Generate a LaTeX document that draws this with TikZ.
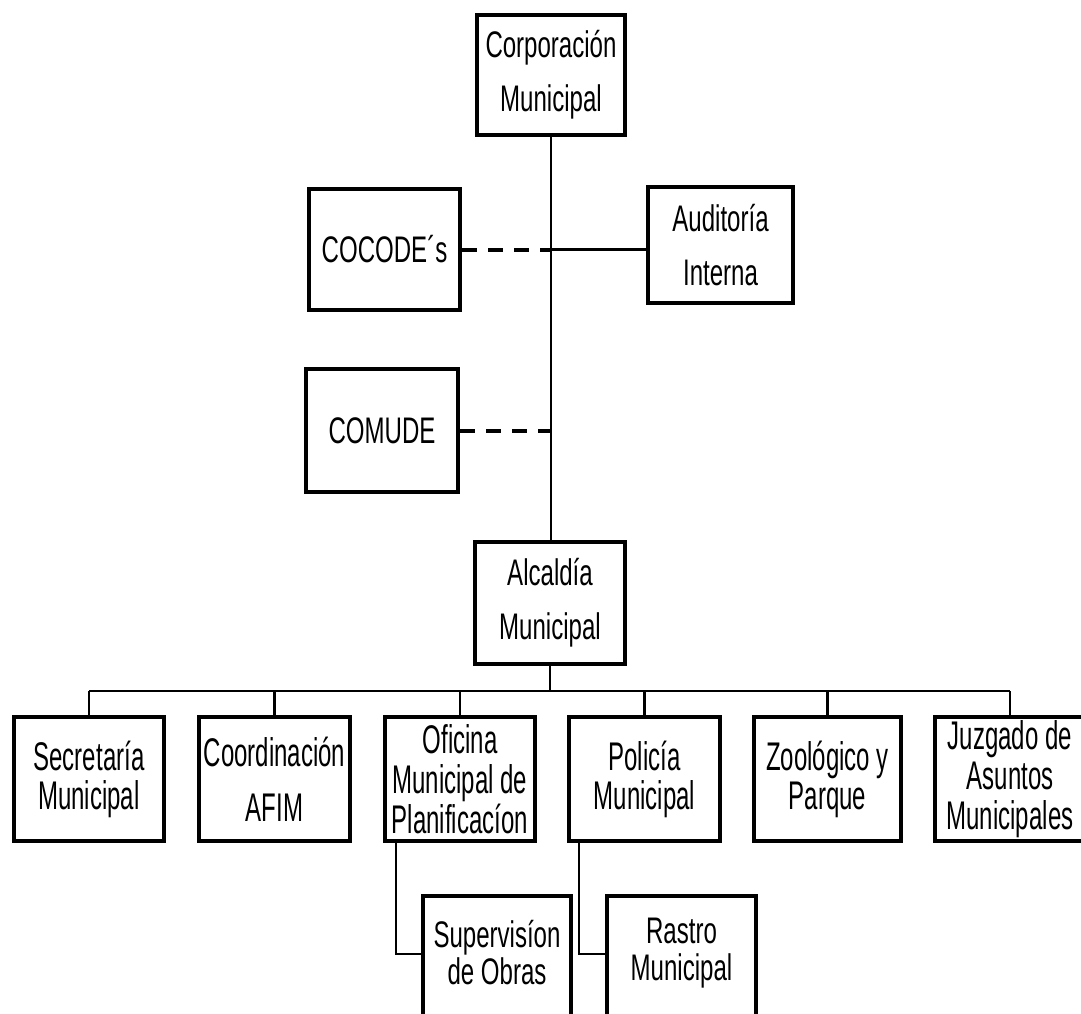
\documentclass[tikz,border=0pt]{standalone}
\usepackage{fontspec}
\setmainfont{Liberation Sans}
% condensed faces for the box labels
\newfontfamily\upperfont[FakeStretch=0.65]{Liberation Sans}
\newfontfamily\lowerfont[FakeStretch=0.60]{Liberation Sans}
\begin{document}
\begin{tikzpicture}[x=1pt,y=-1pt,
  box/.style={draw, line width=4pt, inner sep=0pt, align=center},
  upperbox/.style={box, font=\upperfont\fontsize{37}{54}\selectfont},
  lowerbox/.style={box, font=\lowerfont\fontsize{40}{39}\selectfont,
                   minimum height=124pt},
  sublabel/.style={align=center, inner sep=0pt,
                   font=\upperfont\fontsize{37}{37}\selectfont},
  link/.style={line width=2.8pt},
  dashlink/.style={line width=4pt, dash pattern=on 15pt off 11pt}]
\useasboundingbox (0,0) rectangle (1081,1013);
\clip (0,0) rectangle (1081,1013);

% upper part: council, advisory bodies, mayor
\node[upperbox, minimum width=148pt, minimum height=120pt] (corp) at (551,75) {Corporación\\Municipal};
\node[upperbox, minimum width=151pt, minimum height=121pt] (cocode) at (384.5,249.5) {COCODE´s};
\node[upperbox, minimum width=145pt, minimum height=116pt] (audit) at (720.5,245) {Auditoría\\Interna};
\node[upperbox, minimum width=152pt, minimum height=123pt] (comude) at (382,430.5) {COMUDE};
\node[upperbox, minimum width=150pt, minimum height=122pt] (alc) at (550,603) {Alcaldía\\Municipal};

% departments
\node[lowerbox, minimum width=150pt] (sec) at (89,779) {Secretaría\\Municipal};
\node[lowerbox, minimum width=151pt, font=\lowerfont\fontsize{40}{55}\selectfont] (coord) at (274.5,779) {Coordinación\\AFIM};
\node[lowerbox, minimum width=150pt, font=\lowerfont\fontsize{40}{40}\selectfont] (ofi) at (460,779) {Oficina\\Municipal de\\Planificacíon};
\node[lowerbox, minimum width=151pt] (pol) at (644.5,779) {Policía\\Municipal};
\node[lowerbox, minimum width=147pt] (zoo) at (827.5,779) {Zoológico y\\Parque};
\node[lowerbox, minimum width=150pt, font=\lowerfont\fontsize{40}{40}\selectfont] (juz) at (1010,779) {Juzgado de\\Asuntos\\Municipales};

% sub-units running off the lower edge
\node[box, anchor=north, minimum width=148pt, minimum height=160pt] (sup) at (497,894) {};
\node[sublabel] (suptext) at (497,953) {Supervisíon\\de Obras};
\node[box, anchor=north, minimum width=149pt, minimum height=160pt] (ras) at (681.5,894) {};
\node[sublabel] (rastext) at (681.5,953) {Rastro\\Municipal};

% spine and side links
\draw[link] (corp.south) -- (corp.south |- alc.north);
\draw[dashlink] (cocode.east) -- (cocode.east -| corp.south);
\draw[link] (cocode.east -| corp.south) -- (cocode.east -| audit.west);
\draw[dashlink] (comude.east) -- (comude.east -| corp.south);

% distribution bus below the mayor
\coordinate (bus) at (550,691);
\draw[link] (alc.south) -- (alc.south |- bus);
\draw[link] (sec.north |- bus) -- (juz.north |- bus);
\foreach \n in {sec,coord,ofi,pol,zoo,juz}
  \draw[link] (\n.north |- bus) -- (\n.north);

% elbow links to the sub-units
\draw[link] ([xshift=13pt]ofi.south west) |- ([yshift=-60pt]sup.north west);
\draw[link] ([xshift=12pt]pol.south west) |- ([yshift=-60pt]ras.north west);
\end{tikzpicture}
\end{document}
